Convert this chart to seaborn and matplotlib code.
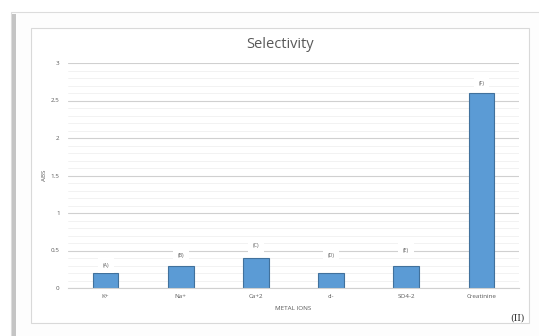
import matplotlib
matplotlib.use("Agg")
import matplotlib.pyplot as plt
from matplotlib.patches import Rectangle
import seaborn as sns
import pandas as pd

categories = ["K+", "Na+", "Ca+2", "cl-", "SO4-2", "Creatinine"]
abs_values = [0.2, 0.3, 0.4, 0.2, 0.3, 2.6]
bar_tags = ["(A)", "(B)", "(C)", "(D)", "(E)", "(F)"]
tag_heights = [0.30, 0.43, 0.56, 0.44, 0.50, 2.73]
y_ticks = [0, 0.5, 1, 1.5, 2, 2.5, 3]
y_tick_labels = ["0", "0.5", "1", "1.5", "2", "2.5", "3"]

sns.set_theme(style="white")
plt.rcParams["font.family"] = ["Open Sans", "DejaVu Sans"]

df = pd.DataFrame({"ion": categories, "abs": abs_values})

W, H = 539, 336
fig = plt.figure(figsize=(W / 100, H / 100), dpi=100)
fig.patch.set_facecolor("white")

def px(x0, y0, x1, y1):
    return (x0 / W, 1 - y1 / H, (x1 - x0) / W, (y1 - y0) / H)

# outer page frame with a soft shadow on the left
l, b, w, h = px(11, 12, 545, 345)
fig.patches.append(Rectangle((l, b), w, h, transform=fig.transFigure,
                             facecolor="#fdfdfd", edgecolor="#dcdcdc", lw=0.8, zorder=0))
l, b, w, h = px(12, 14, 15.5, 345)
fig.patches.append(Rectangle((l, b), w, h, transform=fig.transFigure,
                             facecolor="#c4c4c4", edgecolor="none", zorder=0.5))
# chart area border
l, b, w, h = px(31, 28, 529, 323)
fig.patches.append(Rectangle((l, b), w, h, transform=fig.transFigure,
                             facecolor="white", edgecolor="#d9d9d9", lw=0.8, zorder=1))

ax = fig.add_axes(px(68, 63, 519, 288))
ax.set_facecolor("none")
ax.set_zorder(2)

sns.barplot(data=df, x="ion", y="abs", ax=ax, color="#5B9BD5",
            edgecolor="#41719C", linewidth=0.8, width=0.34, saturation=1)

ax.set_ylim(0, 3)
ax.set_xlim(-0.5, len(categories) - 0.5)
ax.set_yticks(y_ticks)
ax.set_yticklabels(y_tick_labels)
ax.set_yticks([v / 10 for v in range(31)], minor=True)
ax.grid(axis="y", which="major", color="#d0d0d0", lw=0.8, zorder=0)
ax.grid(axis="y", which="minor", color="#f0f0f0", lw=0.6, zorder=0)
ax.set_axisbelow(True)
for s in ["top", "right", "left"]:
    ax.spines[s].set_visible(False)
ax.spines["bottom"].set_color("#d0d0d0")
ax.spines["bottom"].set_linewidth(0.8)
ax.tick_params(axis="both", which="both", length=0, labelsize=4.5, labelcolor="#595959")
ax.tick_params(axis="y", pad=6)
ax.tick_params(axis="x", pad=4)

ax.set_xlabel("METAL IONS", fontsize=4.5, color="#595959", labelpad=5)
ax.set_ylabel("ABS", fontsize=4.5, color="#595959")
ax.yaxis.set_label_coords((47 - 68) / 451, 0.5)

fig.text(280 / W, 1 - 45 / H, "Selectivity", ha="center", va="center",
         fontsize=10.5, color="#595959")

for i, (tag, hy) in enumerate(zip(bar_tags, tag_heights)):
    ax.text(i, hy, tag, ha="center", va="center", fontsize=3.8, color="#595959",
            bbox=dict(boxstyle="square,pad=0.9", facecolor="white", edgecolor="none"),
            zorder=3)

fig.text(517 / W, 1 - 318 / H, "(II)", ha="center", va="center",
         fontsize=6.5, color="#333333", family=["DejaVu Serif"])

fig.savefig("out.png", dpi=100, facecolor="white")
